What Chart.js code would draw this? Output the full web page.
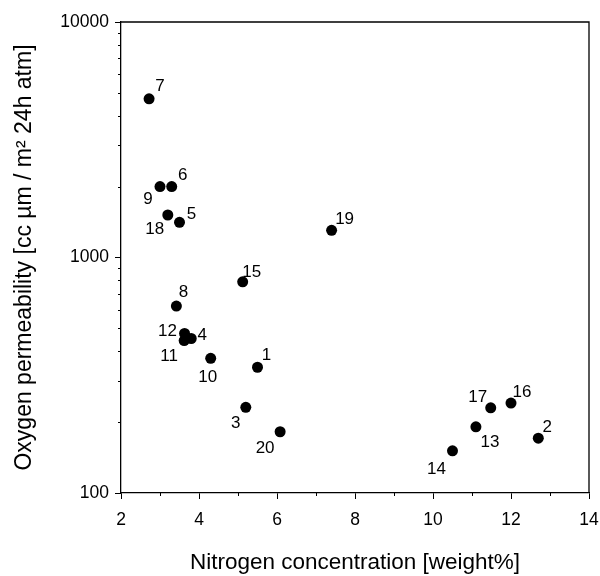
<!DOCTYPE html>
<html>
<head>
<meta charset="utf-8">
<script src="https://cdn.jsdelivr.net/npm/chart.js@4"></script>
<style>
  html, body { margin: 0; padding: 0; background: #fff; }
  #wrap { width: 600px; height: 576px; }
</style>
</head>
<body>
<div id="wrap"><canvas id="chart" width="600" height="576"></canvas></div>
<script>
// Datos
const sampleIds = ['1','2','3','4','5','6','7','8','9','10','11','12','13','14','15','16','17','18','19','20'];
const nitrogen = [5.5, 12.7, 5.2, 3.8, 3.5, 3.3, 2.72, 3.42, 3.0, 4.3, 3.62, 3.63, 11.1, 10.5, 5.12, 12.0, 11.48, 3.2, 7.4, 6.08];
const permeability = [342, 171, 231, 453, 1410, 2000, 4720, 622, 2000, 373, 444, 476, 191, 151, 788, 241, 230, 1515, 1305, 182];

// Ticks
const xMajorTicks = [2, 4, 6, 8, 10, 12, 14];
const xMinorTicks = [3, 5, 7, 9, 11, 13];
const yMajorTicks = [100, 1000, 10000];
const yMinorTicks = [200, 300, 400, 500, 600, 700, 800, 900, 2000, 3000, 4000, 5000, 6000, 7000, 8000, 9000];

// Posición de cada etiqueta respecto a su punto (dx, dy)
const labelOffsets = [
  [9, -12], [9, -11], [-10, 16], [11, -3], [12, -8],
  [11, -11], [11, -12], [7, -14], [-12, 13], [-3, 19],
  [-15, 16], [-17, -2], [14, 15], [-16, 18], [9, -10],
  [11, -11], [-13, -11], [-13, 14], [13, -11], [-15, 17]
];

const FONT = "'Liberation Sans', Arial, sans-serif";

// Marco, ticks menores y etiquetas de los puntos
const extras = {
  id: 'extras',
  afterDraw(chart) {
    const ctx = chart.ctx;
    const a = chart.chartArea;
    const xs = chart.scales.x, ys = chart.scales.y;
    ctx.save();
    ctx.strokeStyle = '#000';
    ctx.lineWidth = 1.3;
    ctx.beginPath();
    ctx.moveTo(a.left, a.top); ctx.lineTo(a.right, a.top); ctx.lineTo(a.right, a.bottom);
    ctx.stroke();
    ctx.lineWidth = 1;
    ctx.beginPath();
    xMinorTicks.forEach(v => {
      const px = Math.round(xs.getPixelForValue(v)) + 0.5;
      ctx.moveTo(px, a.bottom); ctx.lineTo(px, a.bottom + 3);
    });
    yMinorTicks.forEach(v => {
      const py = Math.round(ys.getPixelForValue(v)) + 0.5;
      ctx.moveTo(a.left, py); ctx.lineTo(a.left - 3, py);
    });
    ctx.stroke();

    const meta = chart.getDatasetMeta(0);
    ctx.fillStyle = '#000';
    ctx.font = '17px ' + FONT;
    ctx.textAlign = 'center';
    ctx.textBaseline = 'middle';
    meta.data.forEach((pt, i) => {
      ctx.fillText(sampleIds[i], pt.x + labelOffsets[i][0], pt.y + labelOffsets[i][1]);
    });
    ctx.restore();
  }
};

new Chart(document.getElementById('chart'), {
  type: 'scatter',
  data: {
    datasets: [{
      data: nitrogen.map((x, i) => ({ x: x, y: permeability[i] })),
      backgroundColor: '#000',
      borderWidth: 0,
      pointRadius: 5.5,
      pointHoverRadius: 5.5
    }]
  },
  options: {
    responsive: false,
    animation: false,
    layout: { padding: { top: 22, right: 11, left: 0, bottom: 0 } },
    plugins: { legend: { display: false }, tooltip: { enabled: false } },
    scales: {
      x: {
        type: 'linear',
        min: 2, max: 14,
        afterBuildTicks: s => { s.ticks = xMajorTicks.map(v => ({ value: v })); },
        afterFit: s => { s.height = 83; s.paddingLeft = 0; s.paddingRight = 0; },
        ticks: { color: '#000', font: { family: FONT, size: 17.5 }, padding: 11, maxRotation: 0 },
        grid: { drawOnChartArea: false, tickLength: 6, tickColor: '#000', tickWidth: 1 },
        border: { display: true, color: '#000', width: 1.3 },
        title: {
          display: true, text: 'Nitrogen concentration [weight%]', color: '#000',
          font: { family: FONT, size: 22.5 }, padding: { top: 0, bottom: 0 }
        }
      },
      y: {
        type: 'logarithmic',
        min: 100, max: 10000,
        afterBuildTicks: s => { s.ticks = yMajorTicks.map(v => ({ value: v })); },
        afterFit: s => { s.width = 121; s.paddingTop = 0; s.paddingBottom = 0; },
        ticks: { color: '#000', font: { family: FONT, size: 17.5 }, padding: 6, callback: v => String(v) },
        grid: { drawOnChartArea: false, tickLength: 6, tickColor: '#000', tickWidth: 1 },
        border: { display: true, color: '#000', width: 1.3 },
        title: {
          display: true, text: 'Oxygen permeability [cc µm / m² 24h atm]', color: '#000',
          font: { family: FONT, size: 23 }, padding: { top: 11, bottom: 0 }
        }
      }
    }
  },
  plugins: [extras]
});
</script>
</body>
</html>
